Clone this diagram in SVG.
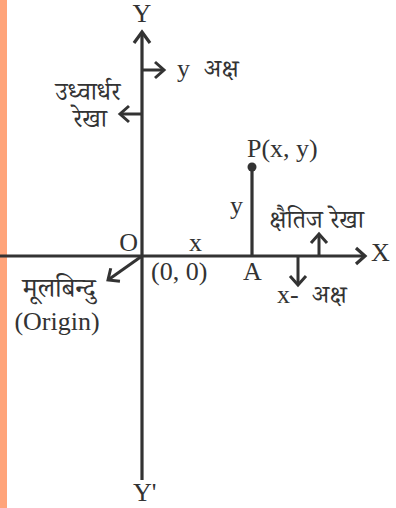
<svg xmlns="http://www.w3.org/2000/svg" width="396" height="508" viewBox="0 0 396 508">
<style>
.ax{stroke:#333;stroke-width:3.2;fill:none;stroke-linecap:butt}
.ar{stroke:#333;stroke-width:3;fill:none;marker-end:url(#head)}
text{font-family:"Liberation Serif","Noto Serif Devanagari","Noto Sans Devanagari",serif;font-size:26px;fill:#333}
.dv{font-size:25px}
</style>
<defs>
<marker id="head" markerUnits="userSpaceOnUse" viewBox="-12 -10 14 20" refX="0" refY="0" markerWidth="14" markerHeight="20" orient="auto" overflow="visible">
<path d="M-9,-8 L0,0 L-9,8" fill="none" stroke="#333" stroke-width="3"/>
</marker>
</defs>
<rect x="0" y="0" width="7" height="508" fill="#FFA47A"/>
<g id="connectors">
<line class="ax" x1="142" y1="480" x2="142" y2="33"/>
<path d="M134,43 L142,32 L150,43" class="ax"/>
<line class="ax" x1="0" y1="256" x2="364" y2="256"/>
<path d="M356,248 L365,256 L356,264" class="ax"/>
<line class="ar" x1="142" y1="70" x2="164" y2="70"/>
<line class="ar" x1="142" y1="114" x2="120" y2="114"/>
<line class="ar" x1="142" y1="256" x2="108" y2="280"/>
<line class="ar" x1="319" y1="256" x2="319" y2="234"/>
<line class="ar" x1="298" y1="256" x2="298" y2="285"/>
<line class="ax" x1="252" y1="167" x2="252" y2="256"/>
</g>
<g id="P"><circle cx="252" cy="167" r="4.5" fill="#333"/><text x="247" y="157">P(x, y)</text></g>
<g id="Y"><text x="142" y="22" text-anchor="middle">Y</text></g>
<g id="Yprime"><text x="133" y="501">Y'</text></g>
<g id="X"><text x="371" y="261">X</text></g>
<g id="O"><text x="138" y="251" text-anchor="end">O</text></g>
<g id="xlabel"><text x="189" y="251">x</text></g>
<g id="origin00"><text x="151" y="280">(0, 0)</text></g>
<g id="A"><text x="243" y="280">A</text></g>
<g id="ylabel"><text x="230" y="214">y</text></g>
<g id="yaxis-label"><text x="177" y="77">y</text><text class="dv" x="204" y="77">अक्ष</text></g>
<g id="vertical-line-label"><text class="dv" x="88" y="100" text-anchor="middle">उध्वार्धर</text><text class="dv" x="90" y="127" text-anchor="middle">रेखा</text></g>
<g id="horizontal-line-label"><text class="dv" x="269" y="228">क्षैतिज</text><text class="dv" x="330" y="228">रेखा</text></g>
<g id="xaxis-label"><text x="277" y="303">x-</text><text class="dv" x="312" y="303">अक्ष</text></g>
<g id="origin-label"><text class="dv" x="59" y="297" text-anchor="middle" style="font-size:27px">मूलबिन्दु</text><text x="57" y="330" text-anchor="middle">(Origin)</text></g>
</svg>
